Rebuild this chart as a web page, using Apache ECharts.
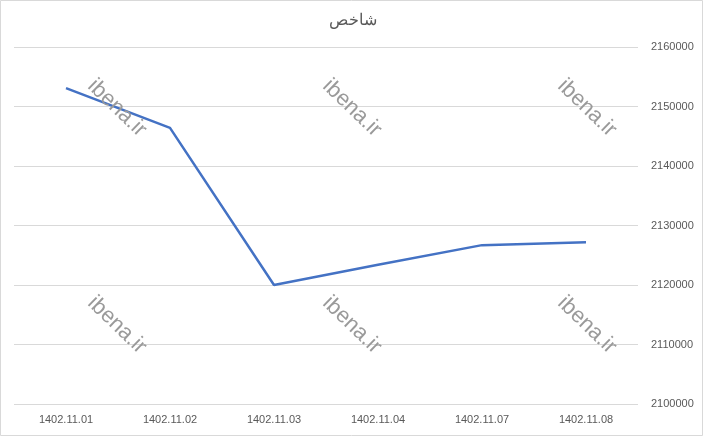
<!DOCTYPE html>
<html>
<head>
<meta charset="utf-8">
<script src="https://cdn.jsdelivr.net/npm/echarts@6/dist/echarts.min.js"></script>
<style>
  html, body { margin: 0; padding: 0; background: #fff; }
  #chart { width: 705px; height: 437px; }
</style>
</head>
<body>
<div id="chart"></div>
<script>
// data
var categories = ['1402.11.01', '1402.11.02', '1402.11.03', '1402.11.04', '1402.11.07', '1402.11.08'];
var indexValues = [2153100, 2146400, 2120000, 2123400, 2126700, 2127200];
var watermarkSpots = [[117, 108], [352, 108], [587, 108], [117, 325], [352, 325], [587, 325]];

var myChart = echarts.init(document.getElementById('chart'));

var marks = watermarkSpots.map(function (p) {
    return {
        type: 'text',
        x: p[0],
        y: p[1],
        rotation: -Math.PI / 4.1,
        z: 10,
        style: {
            text: 'ibena.ir',
            fill: '#9a9a9a',
            font: '22px "Liberation Sans", Arial, sans-serif',
            align: 'center',
            verticalAlign: 'middle'
        }
    };
});
marks.push({
    type: 'rect',
    shape: { x: 0.5, y: 0.5, width: 702, height: 435 },
    style: { fill: 'none', stroke: '#d9d9d9', lineWidth: 1 },
    silent: true
});

var option = {
    animation: false,
    backgroundColor: '#fff',
    title: {
        text: 'شاخص',
        left: 'center',
        top: 7,
        textStyle: {
            fontFamily: '"Noto Sans", sans-serif',
            fontSize: 16,
            fontWeight: 'normal',
            color: '#595959'
        }
    },
    grid: { left: 14, right: 67, top: 47, bottom: 33 },
    xAxis: {
        type: 'category',
        data: categories,
        boundaryGap: true,
        axisLine: { show: false },
        axisTick: { show: false },
        axisLabel: {
            color: '#595959',
            fontSize: 11,
            fontFamily: '"Liberation Sans Narrow", "Liberation Sans", sans-serif',
            margin: 10
        }
    },
    yAxis: {
        type: 'value',
        position: 'right',
        min: 2100000,
        max: 2160000,
        interval: 10000,
        axisLine: { show: false },
        axisTick: { show: false },
        axisLabel: {
            color: '#595959',
            fontSize: 11,
            fontFamily: '"Liberation Sans Narrow", "Liberation Sans", sans-serif',
            margin: 13,
            formatter: function (v) { return String(v); }
        },
        splitLine: { lineStyle: { color: '#d9d9d9', width: 1 } }
    },
    series: [{
        name: 'شاخص',
        type: 'line',
        data: indexValues,
        symbol: 'none',
        lineStyle: { color: '#4472c4', width: 2.5 },
        itemStyle: { color: '#4472c4' }
    }],
    graphic: marks
};

myChart.setOption(option);
</script>
</body>
</html>
